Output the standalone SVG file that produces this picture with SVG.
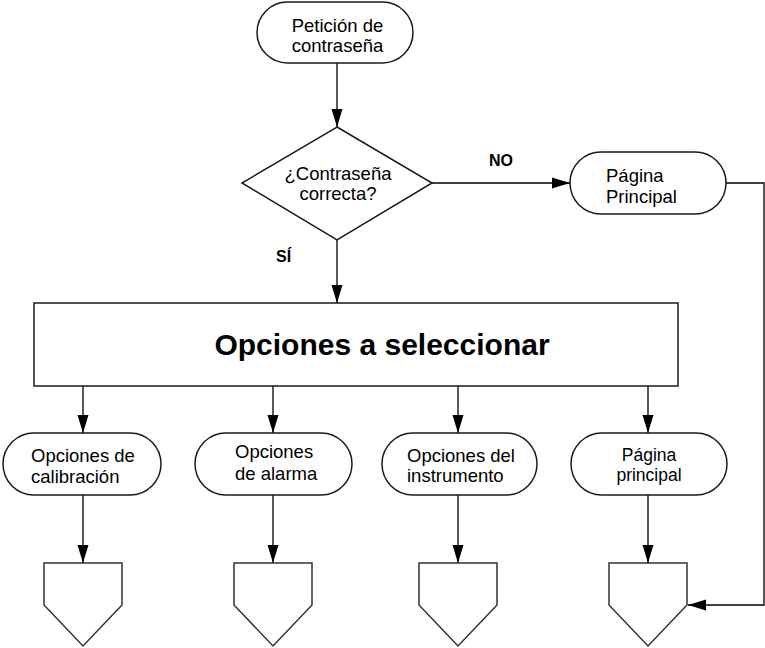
<svg xmlns="http://www.w3.org/2000/svg" width="765" height="648" viewBox="0 0 765 648">
<style>
  .shape { fill: #fff; stroke: #1a1a1a; stroke-width: 1.5; }
  .pent { fill: #fff; stroke: #333; stroke-width: 1.5; }
  .conn { fill: none; stroke: #000; stroke-width: 1.3; }
  .t { font-family: "Liberation Sans", Arial, sans-serif; font-size: 18.5px; fill: #000; }
  .c { text-anchor: middle; }
  .b { font-weight: bold; }
  .lbl { font-size: 16px; }
  .big { font-size: 30px; }
  .sm { font-size: 17.5px; }
</style>
<defs>
  <marker id="arr" markerUnits="userSpaceOnUse" markerWidth="18" markerHeight="12" refX="18" refY="6" orient="auto">
    <path d="M0,0.5 L18,6 L0,11.5 z" fill="#000"/>
  </marker>
</defs>

<g id="connectors">
  <path class="conn" d="M337,63 L337,127" marker-end="url(#arr)"/>
  <path class="conn" d="M432,183 L570,183" marker-end="url(#arr)"/>
  <path class="conn" d="M337,240 L337,303" marker-end="url(#arr)"/>
  <path class="conn" d="M726,183 L764,183 L764,605 L688,605" marker-end="url(#arr)"/>
  <path class="conn" d="M83,386 L83,433" marker-end="url(#arr)"/>
  <path class="conn" d="M273,386 L273,433" marker-end="url(#arr)"/>
  <path class="conn" d="M458,386 L458,433" marker-end="url(#arr)"/>
  <path class="conn" d="M648,386 L648,433" marker-end="url(#arr)"/>
  <path class="conn" d="M83,495 L83,563" marker-end="url(#arr)"/>
  <path class="conn" d="M273,495 L273,563" marker-end="url(#arr)"/>
  <path class="conn" d="M458,495 L458,563" marker-end="url(#arr)"/>
  <path class="conn" d="M648,495 L648,563" marker-end="url(#arr)"/>
  <text class="t b lbl" x="489" y="166">NO</text>
  <text class="t b lbl" x="276" y="262">SÍ</text>
</g>

<g id="peticion">
  <rect class="shape" x="257" y="2" width="156" height="61" rx="30.5"/>
  <text class="t c" x="337.5" y="32">Petición de</text>
  <text class="t c" x="337.5" y="52">contraseña</text>
</g>

<g id="decision">
  <polygon class="shape" points="337,127 432,183 337,240 242,183"/>
  <text class="t c" x="338" y="180">¿Contraseña</text>
  <text class="t c" x="338" y="200">correcta?</text>
</g>

<g id="pagina-principal-top">
  <rect class="shape" x="570" y="152" width="156" height="62" rx="31"/>
  <text class="t" x="606" y="182">Página</text>
  <text class="t" x="606" y="203">Principal</text>
</g>

<g id="opciones">
  <rect class="shape" x="34" y="303" width="644" height="83"/>
  <text class="t c b big" x="382" y="355">Opciones a seleccionar</text>
</g>

<g id="calibracion">
  <rect class="shape" x="3" y="433" width="158" height="62" rx="31"/>
  <text class="t" x="31" y="462">Opciones de</text>
  <text class="t" x="31" y="483">calibración</text>
</g>

<g id="alarma">
  <rect class="shape" x="195" y="433" width="157" height="62" rx="31"/>
  <text class="t" x="235" y="458">Opciones</text>
  <text class="t" x="235" y="480">de alarma</text>
</g>

<g id="instrumento">
  <rect class="shape" x="382" y="433" width="155" height="62" rx="31"/>
  <text class="t" x="407" y="462">Opciones del</text>
  <text class="t" x="407" y="482">instrumento</text>
</g>

<g id="pagina-principal">
  <rect class="shape" x="571" y="433" width="156" height="62" rx="31"/>
  <text class="t c sm" x="649" y="461">Página</text>
  <text class="t c sm" x="649" y="481">principal</text>
</g>

<g id="conector-1"><polygon class="pent" points="44,563 122,563 122,605 83,646 44,605"/></g>
<g id="conector-2"><polygon class="pent" points="234,563 312,563 312,605 273,646 234,605"/></g>
<g id="conector-3"><polygon class="pent" points="419,563 497,563 497,605 458,646 419,605"/></g>
<g id="conector-4"><polygon class="pent" points="609,563 687,563 687,605 648,646 609,605"/></g>
</svg>
